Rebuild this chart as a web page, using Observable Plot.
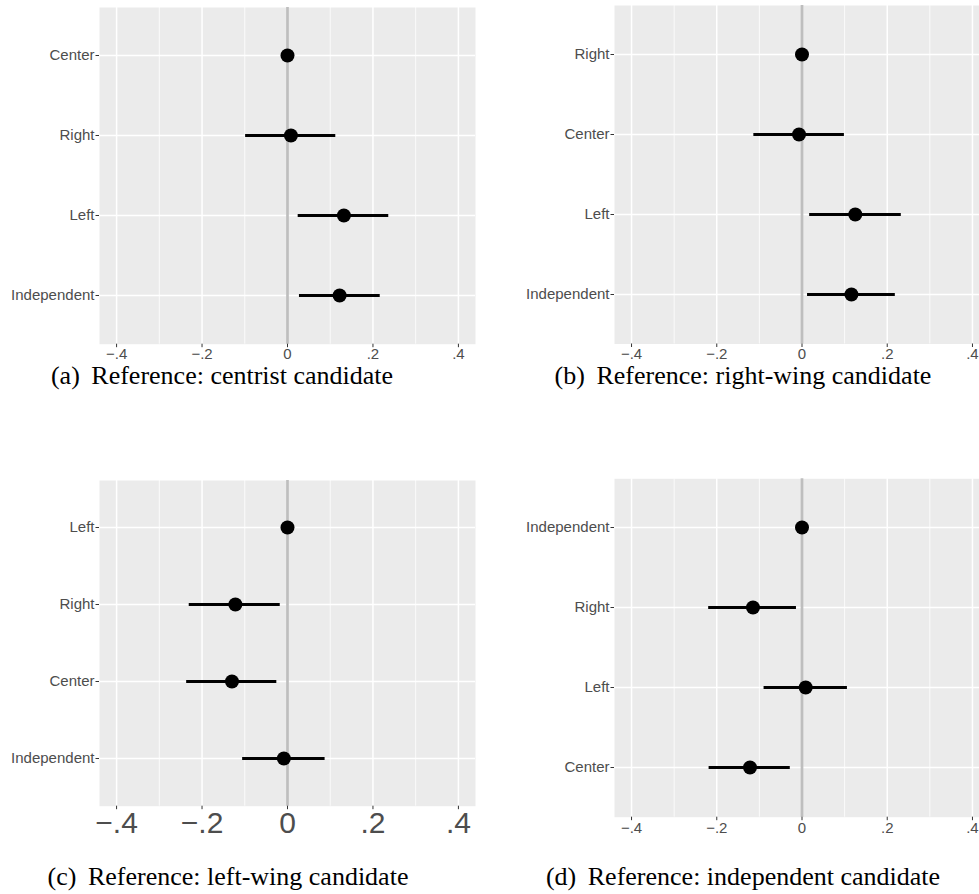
<!DOCTYPE html>
<html>
<head>
<meta charset="utf-8">
<script src="https://cdn.jsdelivr.net/npm/d3@7"></script>
<script src="https://cdn.jsdelivr.net/npm/@observablehq/plot@0.6"></script>
<style>
  html, body { margin: 0; padding: 0; background: white; }
  body { width: 979px; height: 894px; overflow: hidden; position: relative; }
  .panel { position: absolute; overflow: hidden; }
  .cap { position: absolute; font-family: "Liberation Serif", "Times New Roman", serif; font-size: 26px; line-height: 26px; color: #000; white-space: nowrap; text-align: center; }
  .cap .lab { margin-right: 5px; }
</style>
</head>
<body>
<script>
// ---- tick definitions ----
const xTicks = [-0.4, -0.2, 0, 0.2, 0.4];
const xTickLabels = ["\u2212.4", "\u2212.2", "0", ".2", ".4"];
const minorTicks = [-0.3, -0.1, 0.1, 0.3];

// ---- (a) Reference: centrist candidate ----
const catsA = ["Center", "Right", "Left", "Independent"];
const estA  = [0, 0.008, 0.132, 0.122];
const loA   = [null, -0.098, 0.025, 0.028];
const hiA   = [null, 0.113, 0.237, 0.217];

// ---- (b) Reference: right-wing candidate ----
const catsB = ["Right", "Center", "Left", "Independent"];
const estB  = [0, -0.007, 0.125, 0.116];
const loB   = [null, -0.113, 0.018, 0.013];
const hiB   = [null, 0.0995, 0.233, 0.219];

// ---- (c) Reference: left-wing candidate ----
const catsC = ["Left", "Right", "Center", "Independent"];
const estC  = [0, -0.122, -0.130, -0.0085];
const loC   = [null, -0.230, -0.236, -0.105];
const hiC   = [null, -0.017, -0.025, 0.088];

// ---- (d) Reference: independent candidate ----
const catsD = ["Independent", "Right", "Left", "Center"];
const estD  = [0, -0.115, 0.0086, -0.122];
const loD   = [null, -0.219, -0.089, -0.218];
const hiD   = [null, -0.013, 0.1066, -0.0275];

const captions = [
  ["(a)", "Reference: centrist candidate"],
  ["(b)", "Reference: right-wing candidate"],
  ["(c)", "Reference: left-wing candidate"],
  ["(d)", "Reference: independent candidate"]
];

function panel(cfg) {
  const rows = cfg.cats.map((c, i) => ({cat: c, est: cfg.est[i], lo: cfg.lo[i], hi: cfg.hi[i]}));
  const plot = Plot.plot({
    width: cfg.width,
    height: cfg.height,
    marginLeft: cfg.ml,
    marginRight: cfg.mr,
    marginTop: cfg.mt,
    marginBottom: cfg.mb,
    style: {fontFamily: "'Liberation Sans', Arial, sans-serif", background: "transparent", maxWidth: "none", overflow: "visible"},
    x: {domain: [-0.44, 0.44], label: null},
    y: {type: "point", domain: cfg.cats, padding: 0.6, label: null},
    marks: [
      Plot.frame({fill: "#ebebeb", stroke: "none"}),
      Plot.ruleX(minorTicks, {stroke: "white", strokeWidth: 0.8}),
      Plot.ruleX(xTicks, {stroke: "white", strokeWidth: 1.5}),
      Plot.ruleY(cfg.cats, {stroke: "white", strokeWidth: 1.5}),
      Plot.ruleX([0], {stroke: "#bebebe", strokeWidth: 2.7}),
      Plot.ruleY(rows.filter(d => d.lo != null), {y: "cat", x1: "lo", x2: "hi", stroke: "black", strokeWidth: 2.8}),
      Plot.dot(rows, {x: "est", y: "cat", r: 7, fill: "black", stroke: "none"}),
      Plot.axisY({tickSize: 3.5, tickPadding: 1.5, fontSize: 15, fill: "#4d4d4d", stroke: "#333333", label: null}),
      Plot.axisX({ticks: xTicks, tickFormat: d => xTickLabels[xTicks.indexOf(d)], tickSize: 3.5, tickPadding: cfg.xpad, fontSize: cfg.xfont, fill: "#4d4d4d", stroke: "#333333", label: null})
    ]
  });
  const div = document.createElement("div");
  div.className = "panel";
  div.style.left = cfg.left + "px";
  div.style.top = cfg.top + "px";
  div.style.width = cfg.clip + "px";
  div.style.height = cfg.height + "px";
  div.appendChild(plot);
  document.body.appendChild(div);
}

panel({cats: catsA, est: estA, lo: loA, hi: hiA, left: 0, top: 0, width: 490, clip: 490, height: 372, ml: 99, mr: 15, mt: 7, mb: 28.3, xfont: 15, xpad: 0.5});
panel({cats: catsB, est: estB, lo: loB, hi: hiB, left: 490, top: 0, width: 499, clip: 489, height: 372, ml: 124, mr: 0, mt: 5, mb: 28.5, xfont: 15, xpad: 0.5});
panel({cats: catsC, est: estC, lo: loC, hi: hiC, left: 0, top: 440, width: 490, clip: 490, height: 410, ml: 99, mr: 15, mt: 40, mb: 44.3, xfont: 30, xpad: 1.5});
panel({cats: catsD, est: estD, lo: loD, hi: hiD, left: 490, top: 440, width: 499, clip: 489, height: 410, ml: 124, mr: 0, mt: 38.3, mb: 33.3, xfont: 15, xpad: 1.5});

const capPos = [[222, 363], [743, 363], [228, 864], [743, 864]];
captions.forEach((c, i) => {
  const d = document.createElement("div");
  d.className = "cap";
  d.style.top = capPos[i][1] + "px";
  d.style.left = (capPos[i][0] - 250) + "px";
  d.style.width = "500px";
  const a = document.createElement("span");
  a.className = "lab";
  a.textContent = c[0];
  d.appendChild(a);
  d.appendChild(document.createTextNode(" " + c[1]));
  document.body.appendChild(d);
});
</script>
</body>
</html>
